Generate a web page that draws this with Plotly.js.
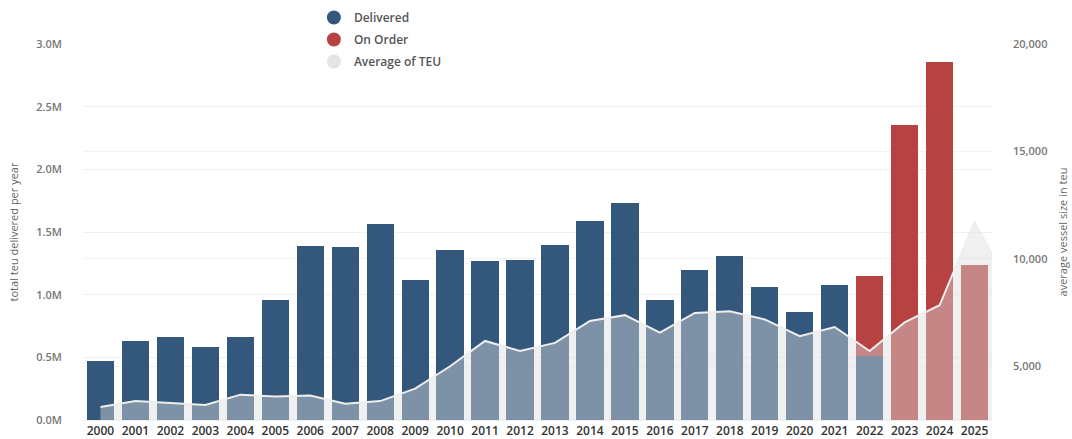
<!DOCTYPE html>
<html>
<head>
<meta charset="utf-8">
<script src="https://cdn.plot.ly/plotly-3.0.1.min.js"></script>
<style>
  html, body { margin: 0; padding: 0; background: #ffffff; }
  #chart { width: 1072px; height: 439px; }
</style>
</head>
<body>
<div id="chart"></div>
<script>
// Years (categories)
const years = [2000, 2001, 2002, 2003, 2004, 2005, 2006, 2007, 2008, 2009, 2010,
               2011, 2012, 2013, 2014, 2015, 2016, 2017, 2018, 2019, 2020, 2021,
               2022, 2023, 2024, 2025];

// Total TEU delivered per year (millions)
const delivered = [0.47, 0.63, 0.66, 0.58, 0.66, 0.96, 1.39, 1.38, 1.56, 1.12, 1.36,
                   1.27, 1.28, 1.40, 1.59, 1.73, 0.96, 1.20, 1.31, 1.06, 0.86, 1.08,
                   0.51, null, null, null];

// TEU on order (millions)
const onOrder = [null, null, null, null, null, null, null, null, null, null, null,
                 null, null, null, null, null, null, null, null, null, null, null,
                 0.64, 2.35, 2.86, 1.24];

// Average vessel size in TEU (last point is cropped at the right edge)
const avgYears = [2000, 2001, 2002, 2003, 2004, 2005, 2006, 2007, 2008, 2009, 2010,
                  2011, 2012, 2013, 2014, 2015, 2016, 2017, 2018, 2019, 2020, 2021,
                  2022, 2023, 2024, 2025, 2026];
const avgTEU = [3100, 3380, 3290, 3200, 3680, 3590, 3640, 3260, 3380, 3960, 5000,
                6180, 5710, 6090, 7110, 7380, 6570, 7480, 7560, 7180, 6400, 6830,
                5710, 7040, 7840, 11720, 8700];

const leftTicks = [0, 0.5, 1.0, 1.5, 2.0, 2.5, 3.0];
const leftTickText = ["0.0M", "0.5M", "1.0M", "1.5M", "2.0M", "2.5M", "3.0M"];
const rightTicks = [5000, 10000, 15000, 20000];

const BLUE = "rgb(51,88,123)";
const RED = "rgb(183,66,66)";
const FONT = "Open Sans, Noto Sans, sans-serif";

const traces = [
  {
    type: "bar", x: years, y: delivered, name: "Delivered",
    marker: { color: BLUE }, showlegend: false, hoverinfo: "x+y"
  },
  {
    type: "bar", x: years, y: onOrder, name: "On Order",
    marker: { color: RED }, showlegend: false, hoverinfo: "x+y"
  },
  {
    type: "scatter", mode: "lines", x: avgYears, y: avgTEU, yaxis: "y2",
    name: "Average of TEU", fill: "tozeroy",
    fillcolor: "rgba(221,221,221,0.44)",
    line: { color: "rgb(238,238,238)", width: 2 },
    showlegend: false
  },
  // legend entries (circle markers)
  { type: "scatter", mode: "markers", x: [null], y: [null], name: "Delivered",
    marker: { color: BLUE, size: 14, symbol: "circle" }, legendgroup: "a" },
  { type: "scatter", mode: "markers", x: [null], y: [null], name: "On Order",
    marker: { color: RED, size: 14, symbol: "circle" }, legendgroup: "b" },
  { type: "scatter", mode: "markers", x: [null], y: [null], name: "Average of TEU",
    marker: { color: "rgb(228,228,228)", size: 14, symbol: "circle" }, legendgroup: "c" }
];

const layout = {
  width: 1072, height: 439,
  margin: { l: 83, r: 80, t: 44, b: 19, pad: 0, autoexpand: false },
  paper_bgcolor: "#ffffff", plot_bgcolor: "#ffffff",
  font: { family: FONT, color: "#666" },
  barmode: "stack",
  bargap: 0.22,
  showlegend: true,
  legend: {
    x: 0.254, y: 1.109, xanchor: "left", yanchor: "top",
    bgcolor: "rgba(255,255,255,0)",
    font: { family: FONT, size: 12, color: "#555", weight: 600 },
    traceorder: "grouped", tracegroupgap: 3,
    itemclick: false
  },
  xaxis: {
    type: "linear", range: [1999.5, 2025.5],
    tickmode: "array", tickvals: years, ticktext: years.map(String),
    tickfont: { family: FONT, size: 12, color: "#333", weight: 600 },
    showgrid: false, zeroline: false, showline: true, linecolor: "#f0f0f0",
    ticks: "", fixedrange: true
  },
  yaxis: {
    range: [0, 3.0],
    tickmode: "array", tickvals: leftTicks, ticktext: leftTickText,
    tickfont: { family: FONT, size: 11, color: "#777", weight: 600 },
    showgrid: true, gridcolor: "#f0f0f0", zeroline: false,
    ticks: "", ticklabelstandoff: 20,
    title: { text: "total teu delivered per year", font: { family: FONT, size: 11, color: "#666" }, standoff: 15 },
    fixedrange: true
  },
  yaxis2: {
    overlaying: "y", side: "right",
    range: [2500, 20000],
    tickmode: "array", tickvals: rightTicks,
    tickformat: ",d",
    tickfont: { family: FONT, size: 11, color: "#777", weight: 600 },
    showgrid: true, gridcolor: "#f2f2f2", zeroline: false,
    ticks: "", ticklabelstandoff: 20,
    title: { text: "average vessel size in teu", font: { family: FONT, size: 11, color: "#666" }, standoff: 12 },
    fixedrange: true
  }
};

Plotly.newPlot("chart", traces, layout, { displayModeBar: false, staticPlot: true });
</script>
</body>
</html>
